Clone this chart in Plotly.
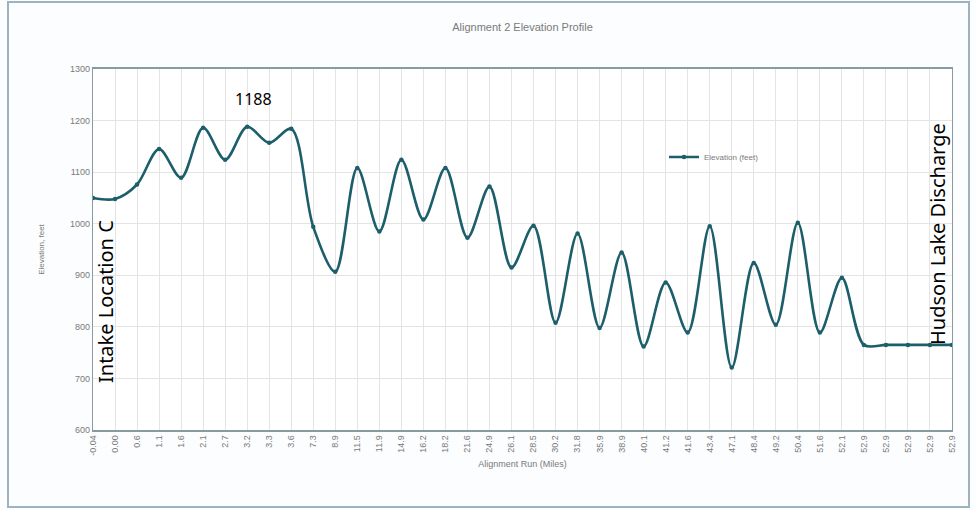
import plotly.graph_objects as go

# Station labels along the alignment (miles) and ground elevation at each station (feet)
run_miles = ["-0.04", "0.00", "0.6", "1.1", "1.6", "2.1", "2.7", "3.2", "3.3", "3.6",
             "7.3", "8.9", "11.5", "11.9", "14.9", "16.2", "18.2", "21.6", "24.9", "26.1",
             "28.5", "30.2", "31.8", "35.9", "38.9", "40.1", "41.2", "41.6", "43.4", "47.1",
             "48.4", "49.2", "50.4", "51.6", "52.1", "52.9", "52.9", "52.9", "52.9", "52.9"]
elevation_ft = [1050, 1048, 1076, 1145, 1089, 1186, 1124, 1188, 1157, 1184,
                994, 907, 1108, 985, 1124, 1008, 1108, 973, 1072, 915,
                996, 808, 981, 798, 944, 762, 886, 789, 995, 721,
                924, 804, 1002, 789, 895, 765, 765, 765, 765, 765]
y_ticks = [600, 700, 800, 900, 1000, 1100, 1200, 1300]

idx = list(range(len(run_miles)))
peak_i = max(idx, key=lambda i: elevation_ft[i])

W, H = 976, 510
ML, MR, MT, MB = 93, 24, 69, 80
pw, ph = W - ML - MR, H - MT - MB

def px(x):  # pixel -> paper x
    return (x - ML) / pw

def py(y):  # pixel -> paper y
    return (H - MB - y) / ph

line_col = "#1d5e6b"
grey_txt = "#7a7a7a"

fig = go.Figure()
fig.add_trace(go.Scatter(
    x=idx, y=elevation_ft, mode="lines+markers", name="Elevation (feet)",
    line=dict(color=line_col, width=2.6, shape="spline", smoothing=0.9),
    marker=dict(color=line_col, size=4.5),
))

fig.update_layout(
    width=W, height=H,
    margin=dict(l=ML, r=MR, t=MT, b=MB),
    paper_bgcolor="#fbfdfe", plot_bgcolor="white",
    font=dict(family="Liberation Sans, Arial, sans-serif", color=grey_txt, size=9),
    title=dict(text="Alignment 2 Elevation Profile", x=0.5, xref="paper",
               y=1 - 27 / H, yanchor="middle", font=dict(size=11, color=grey_txt)),
    showlegend=True,
    legend=dict(x=px(664), y=py(157), xanchor="left", yanchor="middle",
                bgcolor="rgba(0,0,0,0)", font=dict(size=8, color=grey_txt),
                itemwidth=30),
    xaxis=dict(
        range=[0, len(idx) - 1], tickmode="array", tickvals=idx, ticktext=run_miles,
        tickangle=-90, showgrid=True, gridcolor="#e4e4e4", gridwidth=1,
        showline=True, linecolor="#8a9aa3", linewidth=1.5, mirror=True,
        ticks="", zeroline=False, tickfont=dict(size=9, color=grey_txt),
        title=dict(text="Alignment Run (Miles)", font=dict(size=9, color=grey_txt), standoff=6),
    ),
    yaxis=dict(
        range=[600, 1300], tickmode="array", tickvals=y_ticks,
        ticktext=[str(v) for v in y_ticks],
        showgrid=True, gridcolor="#e4e4e4", gridwidth=1,
        showline=True, linecolor="#8a9aa3", linewidth=1.2, mirror=True,
        ticks="", zeroline=False, tickfont=dict(size=9, color=grey_txt),
        title=dict(text="Elevation, feet", font=dict(size=8, color=grey_txt), standoff=24),
    ),
)

# Peak elevation label
fig.add_annotation(x=peak_i, y=elevation_ft[peak_i], xref="x", yref="y",
                   text=str(elevation_ft[peak_i]), showarrow=False, yshift=28, xshift=6,
                   font=dict(family="Noto Sans, Liberation Sans, sans-serif", size=16, color="black"))

# End-point labels, vertical
fig.add_annotation(x=px(105), y=py(302), xref="paper", yref="paper",
                   xanchor="center", yanchor="middle",
                   text="Intake Location C", textangle=-90, showarrow=False,
                   font=dict(family="Noto Sans, Liberation Sans, sans-serif", size=20, color="black"))
fig.add_annotation(x=px(937), y=py(234), xref="paper", yref="paper",
                   xanchor="center", yanchor="middle",
                   text="Hudson Lake Discharge", textangle=-90, showarrow=False,
                   font=dict(family="Noto Sans, Liberation Sans, sans-serif", size=20, color="black"))

# Chart frame
fig.add_shape(type="rect", xref="paper", yref="paper",
              x0=px(8), x1=px(969), y0=py(507), y1=py(2),
              line=dict(color="#9fb3bf", width=2), fillcolor="rgba(0,0,0,0)", layer="below")

fig.write_html("out.html")
